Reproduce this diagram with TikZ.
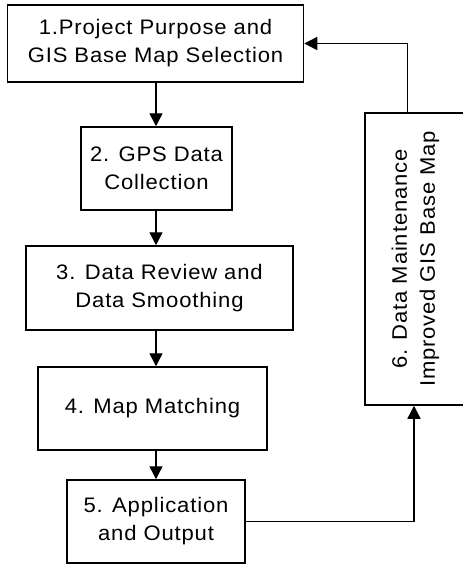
\documentclass[tikz,border=0pt]{standalone}
\usepackage{fontspec}
\setmainfont{Liberation Sans}[LetterSpace=4,FakeStretch=1.05]
\usetikzlibrary{arrows.meta}

\begin{document}
\begin{tikzpicture}[x=1pt,y=-1pt,
  stepbox/.style={draw,line width=1.5pt,align=center,inner sep=0pt,
    font=\fontsize{21}{28}\selectfont},
  flow/.style={line width=1.4pt,-{Triangle[length=13pt,width=13pt]}}]

  % Frame
  \useasboundingbox (0,0) rectangle (463,565);
  \clip (0,0) rectangle (463,565);

  % Main column
  \coordinate (axis) at (156,0);
  \node[stepbox,minimum width=296pt,minimum height=77pt] (purpose) at (155.5,43.5)
    {1.Project Purpose and\\GIS Base Map Selection};
  \node[stepbox,minimum width=151pt,minimum height=83pt] (gps) at (156.5,168.5)
    {2. GPS Data\\Collection};
  \node[stepbox,minimum width=267pt,minimum height=84pt] (review) at (159.5,288)
    {3. Data Review and\\Data Smoothing};
  \node[stepbox,minimum width=229pt,minimum height=83pt] (matching) at (152.5,408.5)
    {4. Map Matching};
  \node[stepbox,minimum width=178pt,minimum height=83pt] (output) at (156,521.5)
    {5. Application\\and Output};

  % Feedback box (cut at the right edge)
  \node[stepbox,rotate=90,minimum width=292pt,minimum height=101pt] (maint) at (415.5,259)
    {6. Data Maintenance\\Improved GIS Base Map};

  % Arrows
  \draw[flow] (purpose.south -| axis) -- (gps.north -| axis);
  \draw[flow] (gps.south -| axis) -- (review.north -| axis);
  \draw[flow] (review.south -| axis) -- (matching.north -| axis);
  \draw[flow] (matching.south -| axis) -- (output.north -| axis);
  \draw[flow] (output.east) -| ([xshift=-1.5pt]maint.west);
  \draw[flow] ([xshift=-8pt]maint.east) |- (purpose.east);

\end{tikzpicture}
\end{document}
